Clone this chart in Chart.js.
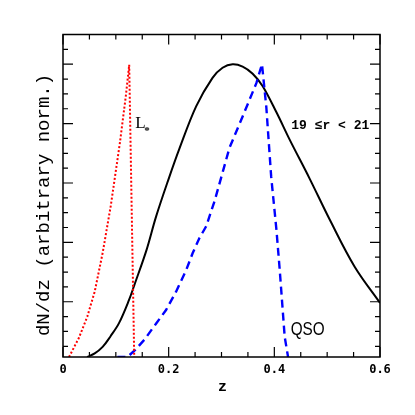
<!DOCTYPE html>
<html>
<head>
<meta charset="utf-8">
<script src="https://cdn.jsdelivr.net/npm/chart.js@4"></script>
<style>
  html, body { margin: 0; padding: 0; background: #fff; }
  #wrap { width: 415px; height: 415px; }
</style>
</head>
<body>
<div id="wrap"><canvas id="grafico" width="415" height="415"></canvas></div>
<script>
// Datos (z, dN/dz en unidades arbitrarias)
const zGal = [0.0456, 0.06, 0.075, 0.09, 0.106, 0.125, 0.135, 0.158, 0.176, 0.20, 0.22, 0.252, 0.283, 0.302, 0.321, 0.34, 0.359, 0.378, 0.404, 0.429, 0.467, 0.505, 0.552, 0.6];
const nGal = [0, 0.06, 0.17, 0.35, 0.57, 0.96, 1.21, 1.80, 2.36, 3.00, 3.50, 4.22, 4.70, 4.87, 4.93, 4.89, 4.77, 4.56, 4.12, 3.66, 3.00, 2.31, 1.52, 0.91];

const zLstar = [0.0114, 0.03, 0.046, 0.06, 0.075, 0.0905, 0.1076, 0.119, 0.1253, 0.1348];
const nLstar = [0, 0.32, 0.68, 1.10, 1.75, 2.55, 3.60, 4.40, 4.92, 0];

const zQso = [0.103, 0.122, 0.1367, 0.154, 0.176, 0.195, 0.214, 0.233, 0.2455, 0.258, 0.271, 0.2867, 0.3025, 0.315, 0.34, 0.366, 0.3766, 0.3848, 0.39, 0.394, 0.404, 0.41, 0.4196, 0.426];
const nQso = [0, 0, 0.12, 0.29, 0.56, 0.79, 1.10, 1.46, 1.75, 2.00, 2.20, 2.62, 3.12, 3.52, 4.05, 4.61, 4.93, 4.21, 3.55, 3.04, 2.14, 1.49, 0.34, 0];

// Etiquetas de los ejes
const xTickLabels = [0, 0.2, 0.4, 0.6];
const xMinorStep = 0.05;
const yMajorTicks = [0.93, 1.93, 2.93, 3.93, 4.93];
const yMinorStep = 0.25;

function pares(xs, ys) {
    return xs.map((x, i) => ({ x: x, y: ys[i] }));
}

// Plugin para marco, marcas hacia dentro, etiquetas y anotaciones
const marcoPlugin = {
    id: 'marco',
    afterDraw(chart) {
        const ctx = chart.ctx;
        const a = chart.chartArea;
        const xs = chart.scales.x;
        const ys = chart.scales.y;
        ctx.save();
        ctx.strokeStyle = '#000';
        ctx.lineWidth = 1.5;
        ctx.strokeRect(a.left, a.top, a.right - a.left, a.bottom - a.top);

        ctx.lineWidth = 1.2;
        ctx.beginPath();
        // marcas eje x
        for (let k = 0; k <= 12; k++) {
            const v = k * xMinorStep;
            const px = xs.getPixelForValue(v);
            const len = (k % 4 === 0) ? 10 : 5;
            ctx.moveTo(px, a.bottom); ctx.lineTo(px, a.bottom - len);
            ctx.moveTo(px, a.top); ctx.lineTo(px, a.top + len);
        }
        // marcas eje y
        for (let k = 0; k < 30; k++) {
            const v = 0.18 + k * yMinorStep;
            if (v > ys.max) break;
            const py = ys.getPixelForValue(v);
            const mayor = yMajorTicks.some(m => Math.abs(m - v) < 0.01);
            const len = mayor ? 10 : 5;
            ctx.moveTo(a.left, py); ctx.lineTo(a.left + len, py);
            ctx.moveTo(a.right, py); ctx.lineTo(a.right - len, py);
        }
        ctx.stroke();

        // etiquetas eje x
        ctx.fillStyle = '#000';
        ctx.font = "bold 12px 'DejaVu Sans Mono'";
        ctx.textAlign = 'center';
        ctx.textBaseline = 'middle';
        xTickLabels.forEach(v => {
            ctx.fillText(String(v), xs.getPixelForValue(v), a.bottom + 13);
        });
        ctx.font = "bold 15px 'Liberation Mono'";
        ctx.fillText('z', (a.left + a.right) / 2 + 1, a.bottom + 30);

        // título eje y
        ctx.save();
        ctx.translate(44, 205);
        ctx.rotate(-Math.PI / 2);
        ctx.font = "19px 'Liberation Mono'";
        ctx.fillText('dN/dz (arbitrary norm.)', 0, 0);
        ctx.restore();

        // anotaciones
        ctx.textAlign = 'left';
        ctx.textBaseline = 'alphabetic';
        ctx.font = "17px 'Liberation Serif'";
        const lx = xs.getPixelForValue(0.1367);
        const ly = ys.getPixelForValue(3.86);
        ctx.fillText('L', lx, ly);
        ctx.font = "bold 11px 'Liberation Serif'";
        ctx.fillText('*', lx + 9, ly + 6);

        ctx.font = "bold 13px 'Liberation Mono'";
        ctx.textBaseline = 'middle';
        ctx.fillText('19 \u2264r < 21', xs.getPixelForValue(0.432), ys.getPixelForValue(3.9));

        ctx.save();
        ctx.translate(xs.getPixelForValue(0.431), ys.getPixelForValue(0.45));
        ctx.scale(0.85, 1);
        ctx.font = "18px 'Liberation Sans'";
        ctx.fillText('QSO', 0, 0);
        ctx.restore();

        ctx.restore();
    }
};

const ctx = document.getElementById('grafico').getContext('2d');
const grafico = new Chart(ctx, {
    type: 'line',
    data: {
        datasets: [
            {
                label: 'L*',
                data: pares(zLstar, nLstar),
                borderColor: '#ff0000',
                borderWidth: 2,
                borderDash: [2, 2],
                pointRadius: 0,
                tension: 0,
                fill: false
            },
            {
                label: 'QSO',
                data: pares(zQso, nQso),
                borderColor: '#0000ff',
                borderWidth: 2.4,
                borderDash: [8, 5],
                pointRadius: 0,
                tension: 0,
                fill: false
            },
            {
                label: '19 <= r < 21',
                data: pares(zGal, nGal),
                borderColor: '#000000',
                borderWidth: 2,
                pointRadius: 0,
                tension: 0.35,
                fill: false
            }
        ]
    },
    options: {
        responsive: false,
        animation: false,
        layout: {
            padding: { left: 63, right: 35, top: 34.5, bottom: 58 }
        },
        plugins: {
            legend: { display: false },
            tooltip: { enabled: false }
        },
        scales: {
            x: { type: 'linear', min: 0, max: 0.6, display: false },
            y: { type: 'linear', min: 0, max: 5.43, display: false }
        }
    },
    plugins: [marcoPlugin]
});
</script>
</body>
</html>
